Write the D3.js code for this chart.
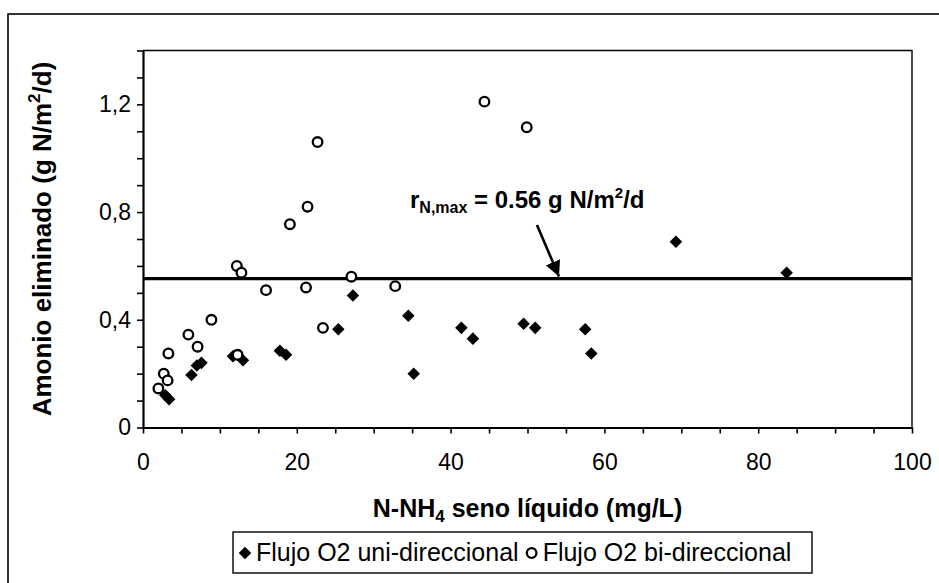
<!DOCTYPE html>
<html><head><meta charset="utf-8">
<script src="https://cdn.jsdelivr.net/npm/d3@7"></script>
<style>
body{margin:0;background:#fff}
svg{display:block}
text{font-family:"Liberation Sans",Arial,Helvetica,sans-serif;fill:#000}
</style>
</head><body>
<svg id="chart" width="939" height="583"></svg>
<script>
// Series: Flujo O2 uni-direccional (filled diamonds)
const uniX = [2.9, 3.4, 6.3, 7.0, 7.6, 11.7, 13.0, 17.8, 18.6, 25.4, 27.3, 34.5, 35.2, 41.4, 42.9, 49.5, 51.0, 57.5, 58.3, 69.3, 83.7];
const uniY = [0.12, 0.105, 0.195, 0.23, 0.24, 0.265, 0.25, 0.285, 0.27, 0.365, 0.49, 0.415, 0.2, 0.37, 0.33, 0.385, 0.37, 0.365, 0.275, 0.69, 0.575];
// Series: Flujo O2 bi-direccional (open circles)
const biX = [2.0, 2.7, 3.2, 3.3, 5.9, 7.1, 8.9, 12.2, 12.8, 12.3, 16.0, 19.1, 21.2, 21.4, 22.7, 23.4, 27.1, 32.8, 44.4, 49.9];
const biY = [0.145, 0.2, 0.175, 0.275, 0.345, 0.3, 0.4, 0.6, 0.575, 0.27, 0.51, 0.755, 0.52, 0.82, 1.06, 0.37, 0.56, 0.525, 1.21, 1.115];
// Reference line
const rNmax = 0.553;
// Axis ticks
const xMinorTicks = [0,5,10,15,20,25,30,35,40,45,50,55,60,65,70,75,80,85,90,95,100];
const xLabelTicks = [0,20,40,60,80,100];
const yMinorTicks = [0,0.1,0.2,0.3,0.4,0.5,0.6,0.7,0.8,0.9,1.0,1.1,1.2,1.3,1.4];
const yLabelTicks = ["0","0,4","0,8","1,2"];
const yLabelValues = [0,0.4,0.8,1.2];
const legendLabels = ["Flujo O2 uni-direccional","Flujo O2 bi-direccional"];

const svg = d3.select("#chart");
const L = 143, R = 912, T = 50.5, B = 427.5;
const x = d3.scaleLinear().domain([0,100]).range([L,R]);
const y = d3.scaleLinear().domain([0,1.4]).range([B,T]);

// outer frame
svg.append("rect").attr("x",8).attr("y",14).attr("width",1000).attr("height",1000)
  .attr("fill","none").attr("stroke","#000").attr("stroke-width",1.6);

// plot frame (top & right)
svg.append("path").attr("d",`M${L},${T}H${R}V${B}`).attr("fill","none")
  .attr("stroke","#000").attr("stroke-width",1.4);

// axes
const xAxis = d3.axisBottom(x).tickValues(xMinorTicks).tickSize(6).tickSizeOuter(0)
  .tickFormat(d => xLabelTicks.includes(d) ? d : "");
const gx = svg.append("g").attr("transform",`translate(0,${B})`).call(xAxis);
gx.select(".domain").attr("stroke-width",2.2);
gx.selectAll(".tick line").attr("stroke-width",1.6);
gx.selectAll(".tick text").attr("font-size",23).attr("y",42).attr("dy",0)
  .style("font-family","'Liberation Sans',Arial,sans-serif");

const yAxis = d3.axisLeft(y).tickValues(yMinorTicks).tickSize(6).tickSizeOuter(0)
  .tickFormat(d => { const i = yLabelValues.findIndex(v => Math.abs(v-d) < 1e-9); return i >= 0 ? yLabelTicks[i] : ""; });
const gy = svg.append("g").attr("transform",`translate(${L},0)`).call(yAxis);
gy.select(".domain").attr("stroke-width",2.2);
gy.selectAll(".tick line").attr("stroke-width",1.6);
gy.selectAll(".tick text").attr("font-size",23).attr("x",-12)
  .style("font-family","'Liberation Sans',Arial,sans-serif");

// reference line
svg.append("line").attr("x1",x(0)).attr("x2",x(100)).attr("y1",y(rNmax)).attr("y2",y(rNmax))
  .attr("stroke","#000").attr("stroke-width",3.2);

// diamonds
const diamond = d3.symbol().type(d3.symbolDiamond2).size(100);
const uni = uniX.map((v,i)=>({x:v,y:uniY[i]}));
const bi = biX.map((v,i)=>({x:v,y:biY[i]}));
svg.append("g").selectAll("path").data(uni).join("path")
  .attr("d", diamond).attr("transform", d => `translate(${x(d.x)},${y(d.y)})`)
  .attr("fill","#000");
svg.append("g").selectAll("circle").data(bi).join("circle")
  .attr("cx", d => x(d.x)).attr("cy", d => y(d.y)).attr("r",4.8)
  .attr("fill","#fff").attr("stroke","#000").attr("stroke-width",2.3);

// annotation
const ann = svg.append("text").attr("x",410).attr("y",208).attr("font-size",24).attr("font-weight","bold");
ann.append("tspan").text("r");
ann.append("tspan").attr("font-size",16).attr("dy",5).text("N,max");
ann.append("tspan").attr("dy",-5).text(" = 0.56 g N/m");
ann.append("tspan").attr("font-size",15).attr("dy",-10).text("2");
ann.append("tspan").attr("dy",10).text("/d");
// arrow
svg.append("defs").append("marker").attr("id","ah").attr("viewBox","0 0 10 10")
  .attr("refX",10).attr("refY",5).attr("markerWidth",6).attr("markerHeight",6)
  .attr("markerUnits","strokeWidth").attr("orient","auto")
  .append("path").attr("d","M0,0L10,5L0,10Z").attr("fill","#000");
svg.append("line").attr("x1",537).attr("y1",225).attr("x2",559).attr("y2",y(rNmax)-2)
  .attr("stroke","#000").attr("stroke-width",2.6).attr("marker-end","url(#ah)");

// axis titles
const yt = svg.append("text").attr("transform",`translate(51,${(T+B)/2}) rotate(-90)`)
  .attr("text-anchor","middle").attr("font-size",26).attr("font-weight","bold");
yt.append("tspan").text("Amonio eliminado (g N/m");
yt.append("tspan").attr("font-size",17).attr("dy",-11).text("2");
yt.append("tspan").attr("dy",11).text("/d)");

const xt = svg.append("text").attr("x",(L+R)/2).attr("y",517)
  .attr("text-anchor","middle").attr("font-size",25).attr("font-weight","bold");
xt.append("tspan").text("N-NH");
xt.append("tspan").attr("font-size",17).attr("dy",5).text("4");
xt.append("tspan").attr("dy",-5).text(" seno líquido (mg/L)");

// legend
const lg = svg.append("g");
lg.append("rect").attr("x",233).attr("y",532).attr("width",579).attr("height",41)
  .attr("fill","#fff").attr("stroke","#000").attr("stroke-width",1.4);
lg.append("path").attr("d",diamond).attr("transform","translate(245,553)").attr("fill","#000");
const t1 = lg.append("text").attr("x",256).attr("y",561).attr("font-size",25).text(legendLabels[0]);
const w1 = t1.node().getComputedTextLength();
const cx2 = 256 + w1 + 13;
lg.append("circle").attr("cx",cx2).attr("cy",553).attr("r",4.8).attr("fill","#fff").attr("stroke","#000").attr("stroke-width",2.3);
lg.append("text").attr("x",cx2+11).attr("y",561).attr("font-size",25).text(legendLabels[1]);
</script>
</body></html>
